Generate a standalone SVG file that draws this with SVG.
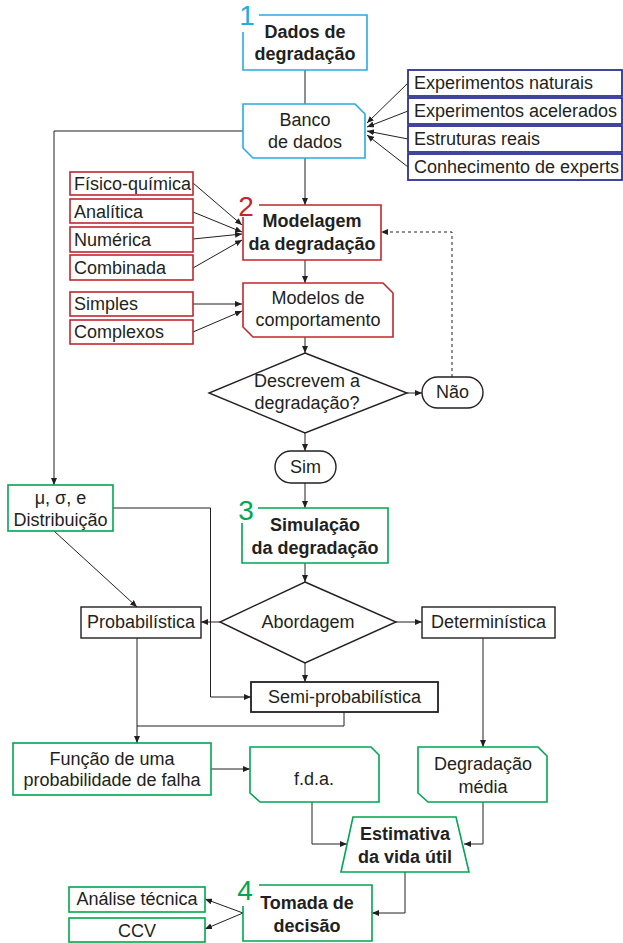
<svg xmlns="http://www.w3.org/2000/svg" width="623" height="943" viewBox="0 0 623 943">
<style>
text{font-family:"Liberation Sans",Arial,sans-serif;font-size:18px;fill:#231f20}
.b{font-weight:bold;font-size:18px}
.c{text-anchor:middle}
.num{font-size:28px;text-anchor:middle}
.cy{fill:none;stroke:#27aae1;stroke-width:1.6}
.nv{fill:none;stroke:#2e3192;stroke-width:1.8}
.rd{fill:none;stroke:#c1272d;stroke-width:1.6}
.gr{fill:none;stroke:#00a651;stroke-width:1.6}
.bk{fill:none;stroke:#231f20;stroke-width:1.4}
.ln{fill:none;stroke:#231f20;stroke-width:1}
.ar{marker-end:url(#a)}
.ds{stroke-dasharray:3,3}
</style>
<defs>
<marker id="a" markerUnits="userSpaceOnUse" markerWidth="8" markerHeight="6" refX="7" refY="3" orient="auto">
<path d="M0,0 L7,3 L0,6 z" fill="#231f20"/>
</marker>
</defs>
<rect width="623" height="943" fill="#fff"/>
<g id="connectors">
<path class="ln" d="M305,70 V104"/>
<path class="ln ar" d="M408,83 L367,123"/>
<path class="ln ar" d="M408,111 L367,127"/>
<path class="ln ar" d="M408,139 L367,131"/>
<path class="ln ar" d="M408,167 L367,135"/>
<path class="ln ar" d="M243,131 H54 V485"/>
<path class="ln ar" d="M305,158 V205"/>
<path class="ln ar" d="M193,183 L242,225"/>
<path class="ln ar" d="M193,212 L242,232"/>
<path class="ln ar" d="M193,239 L242,234"/>
<path class="ln ar" d="M193,268 L242,240"/>
<path class="ln ar" d="M305,260 V283"/>
<path class="ln ar" d="M193,304 H242"/>
<path class="ln ar" d="M193,332 L242,311"/>
<path class="ln ar" d="M305,337 V353"/>
<path class="ln ar" d="M407,393 H422"/>
<path class="ln ar ds" d="M452,377 V232 H381"/>
<path class="ln ar" d="M305,433 V451"/>
<path class="ln ar" d="M305,483 V508"/>
<path class="ln ar" d="M305,563 V582"/>
<path class="ln ar" d="M220,622 H201"/>
<path class="ln ar" d="M396,622 H422"/>
<path class="ln ar" d="M305,663 V682"/>
<path class="ln ar" d="M113,508 H210.5 V697 H251"/>
<path class="ln ar" d="M54,531 L137,607"/>
<path class="ln ar" d="M137,638 V743"/>
<path class="ln" d="M344,712 V726 H137"/>
<path class="ln ar" d="M483,638 V747"/>
<path class="ln ar" d="M211,769 H250"/>
<path class="ln ar" d="M312,802 V844 H347"/>
<path class="ln ar" d="M483,802 V844 H464"/>
<path class="ln ar" d="M405,872 V913 H372"/>
<path class="ln ar" d="M243,913 L205,899"/>
<path class="ln ar" d="M243,913 L205,929"/>
</g>
<g id="n-dados">
<path class="cy" d="M259,15 H367 V70 H243 V32"/>
<text class="num" x="247" y="25" style="fill:#27aae1">1</text>
<text class="b c" x="305" y="38">Dados de</text>
<text class="b c" x="305" y="60">degradação</text>
</g>
<g id="n-banco">
<path class="cy" d="M243,104 H355 L365,114 V158 H253 L243,148 Z"/>
<text class="c" x="305" y="125.5">Banco</text>
<text class="c" x="305" y="148">de dados</text>
</g>
<g id="n-exp-nat"><rect class="nv" x="408" y="70" width="214" height="26"/><text x="414" y="89">Experimentos naturais</text></g>
<g id="n-exp-acel"><rect class="nv" x="408" y="98" width="214" height="26"/><text x="414" y="117">Experimentos acelerados</text></g>
<g id="n-estr"><rect class="nv" x="408" y="126" width="214" height="26"/><text x="414" y="145">Estruturas reais</text></g>
<g id="n-conh"><rect class="nv" x="408" y="154" width="214" height="26"/><text x="414" y="173">Conhecimento de experts</text></g>
<g id="n-fisico"><rect class="rd" x="70" y="172" width="123" height="23"/><text x="74" y="190">Físico-química</text></g>
<g id="n-analitica"><rect class="rd" x="70" y="199" width="123" height="24"/><text x="74" y="218">Analítica</text></g>
<g id="n-numerica"><rect class="rd" x="70" y="227" width="123" height="25"/><text x="74" y="246">Numérica</text></g>
<g id="n-combinada"><rect class="rd" x="70" y="255" width="123" height="25"/><text x="74" y="274">Combinada</text></g>
<g id="n-simples"><rect class="rd" x="70" y="292" width="123" height="24"/><text x="74" y="310">Simples</text></g>
<g id="n-complexos"><rect class="rd" x="70" y="320" width="123" height="24"/><text x="74" y="338">Complexos</text></g>
<g id="n-modelagem">
<path class="rd" d="M259,205 H381 V260 H243 V217"/>
<text class="num" x="246" y="216" style="fill:#c1272d">2</text>
<text class="b c" x="312" y="227">Modelagem</text>
<text class="b c" x="312" y="250">da degradação</text>
</g>
<g id="n-modelos">
<path class="rd" d="M243,283 H383 L393,293 V337 H253 L243,327 Z"/>
<text class="c" x="318" y="304">Modelos de</text>
<text class="c" x="318" y="326">comportamento</text>
</g>
<g id="n-descrevem">
<path class="bk" d="M305,353 L407,393 L305,433 L209,393 Z"/>
<text class="c" x="307" y="387">Descrevem a</text>
<text class="c" x="307" y="409">degradação?</text>
</g>
<g id="n-nao"><rect class="bk" x="422" y="377" width="61" height="31" rx="15.5"/><text class="c" x="452.5" y="398">Não</text></g>
<g id="n-sim"><rect class="bk" x="275" y="451" width="61" height="32" rx="16"/><text class="c" x="305.5" y="473">Sim</text></g>
<g id="n-mu">
<rect class="gr" x="8" y="485" width="105" height="46"/>
<text class="c" x="60.5" y="504">μ, σ, e</text>
<text class="c" x="60.5" y="526">Distribuição</text>
</g>
<g id="n-simulacao">
<path class="gr" d="M258,508 H388 V563 H242 V523"/>
<text class="num" x="246" y="520" style="fill:#00a651">3</text>
<text class="b c" x="315" y="531">Simulação</text>
<text class="b c" x="315" y="554">da degradação</text>
</g>
<g id="n-abordagem">
<path class="bk" d="M305,582 L396,622 L305,663 L220,622 Z"/>
<text class="c" x="308" y="628">Abordagem</text>
</g>
<g id="n-prob"><rect class="bk" x="81" y="607" width="120" height="31"/><text class="c" x="141" y="628">Probabilística</text></g>
<g id="n-det"><rect class="bk" x="422" y="607" width="133" height="31"/><text class="c" x="488.5" y="628">Determinística</text></g>
<g id="n-semi"><rect class="bk" x="251" y="682" width="187" height="30" style="stroke-width:1.8"/><text class="c" x="344.5" y="703">Semi-probabilística</text></g>
<g id="n-funcao">
<rect class="gr" x="13" y="743" width="198" height="52"/>
<text class="c" x="112" y="765">Função de uma</text>
<text class="c" x="112" y="786">probabilidade de falha</text>
</g>
<g id="n-fda">
<path class="gr" d="M250,747 H371 L379,755 V802 H260 L250,793 Z"/>
<text class="c" x="314" y="785">f.d.a.</text>
</g>
<g id="n-degmedia">
<path class="gr" d="M418,747 H538 L547,756 V802 H428 L418,793 Z"/>
<text class="c" x="483" y="770">Degradação</text>
<text class="c" x="483" y="793">média</text>
</g>
<g id="n-estimativa">
<path class="gr" d="M353,817 H456 L469,872 H341 Z"/>
<text class="b c" x="405" y="840">Estimativa</text>
<text class="b c" x="405" y="863">da vida útil</text>
</g>
<g id="n-tomada">
<path class="gr" d="M259,885 H372 V941 H243 V906"/>
<text class="num" x="245" y="900" style="fill:#00a651">4</text>
<text class="b c" x="307" y="909">Tomada de</text>
<text class="b c" x="307" y="932">decisão</text>
</g>
<g id="n-analise"><rect class="gr" x="69" y="887" width="136" height="25"/><text class="c" x="137" y="905">Análise técnica</text></g>
<g id="n-ccv"><rect class="gr" x="69" y="918" width="136" height="24"/><text class="c" x="137" y="937">CCV</text></g>
</svg>
